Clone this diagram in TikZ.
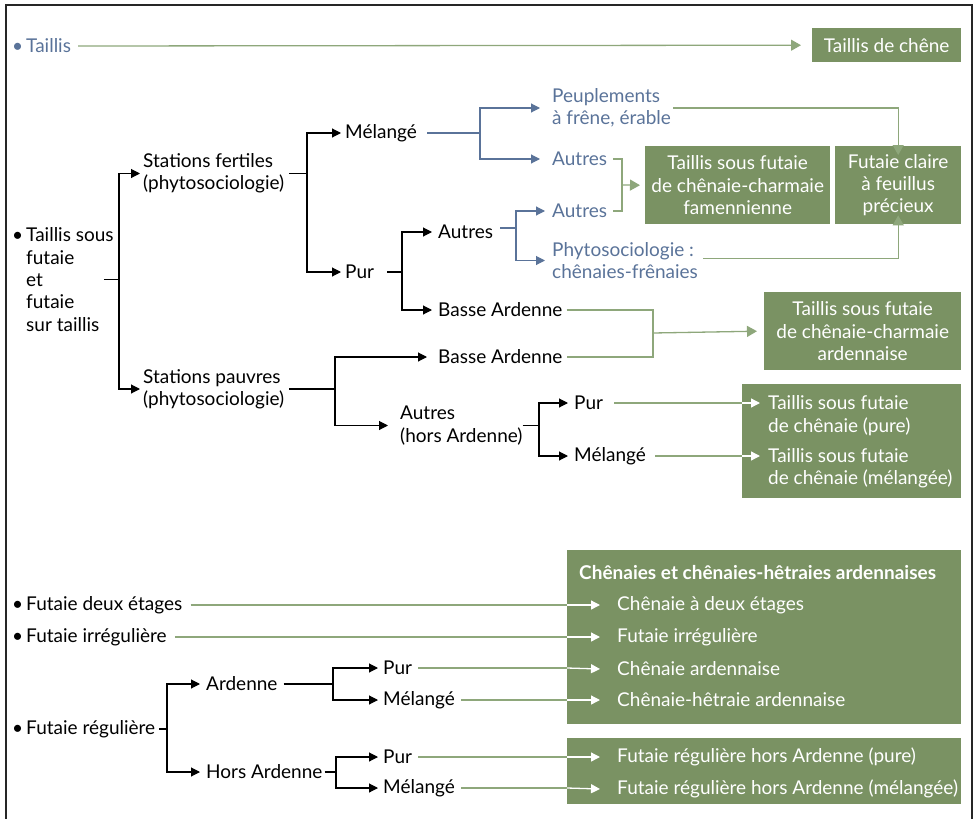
\documentclass[tikz,border=0pt]{standalone}
\usepackage{fontspec}
\setmainfont{Lato}
\usetikzlibrary{arrows.meta}
\definecolor{boxgreen}{HTML}{7A9263}
\definecolor{linegreen}{HTML}{8EA77B}
\definecolor{tblue}{HTML}{5A7399}
\newcommand{\dfont}{\fontsize{19}{22.3}\selectfont}
\newcommand{\bul}{\llap{•\,}}
\tikzset{
  txt/.style={inner sep=0pt, anchor=west, align=left, font=\dfont},
  btxt/.style={txt, text=tblue},
  wtxt/.style={txt, text=white},
  gbox/.style={fill=boxgreen, inner sep=0pt, anchor=north west, text=white, align=center, font=\dfont},
  blkl/.style={draw=black, line width=1.1pt},
  blk/.style={blkl, -{Triangle[length=9pt,width=9pt]}},
  bluel/.style={draw=tblue, line width=1.1pt},
  bluea/.style={bluel, -{Triangle[length=9pt,width=9pt]}},
  grnl/.style={draw=linegreen, line width=1.3pt},
  grna/.style={grnl, -{Triangle[length=10pt,width=11pt]}},
  whta/.style={draw=white, line width=1.3pt, -{Triangle[length=9pt,width=9pt]}},
}
\begin{document}
\begin{tikzpicture}[x=1pt,y=-1pt]
\useasboundingbox (0,0) rectangle (975,819);
\draw[line width=1.2pt, draw=black!85] (6,819) -- (6,5) -- (972,5) -- (972,819);

% ---------- boxes ----------
\node[gbox, minimum width=149, minimum height=34] (b1) at (812,28) {Taillis de chêne};
\node[gbox, minimum width=185, minimum height=78] (tsf) at (645,146) {Taillis sous futaie\\de chênaie-charmaie\\famennienne};
\node[gbox, minimum width=126, minimum height=78] (fc) at (835,146) {Futaie claire\\à feuillus\\précieux};
\node[gbox, minimum width=197, minimum height=78] (tsa) at (764,292) {Taillis sous futaie\\de chênaie-charmaie\\ardennaise};
\node[gbox, minimum width=219, minimum height=114] (tsp) at (742,384) {};
\node[gbox, minimum width=394, minimum height=174] (ch) at (567,550) {};
\node[gbox, minimum width=394, minimum height=66] (fr) at (567,738) {};

\node[wtxt] (tp1) at (768,415.5) {Taillis sous futaie\\de chênaie (pure)};
\node[wtxt] (tp2) at (768,468.5) {Taillis sous futaie\\de chênaie (mélangée)};
\node[wtxt, font=\dfont\bfseries] (cht) at (579,573) {Chênaies et chênaies-hêtraies ardennaises};
\node[wtxt] (i1) at (617,605) {Chênaie à deux étages};
\node[wtxt] (i2) at (617,637) {Futaie irrégulière};
\node[wtxt] (i3) at (617,669) {Chênaie ardennaise};
\node[wtxt] (i4) at (617,700) {Chênaie-hêtraie ardennaise};
\node[wtxt] (i5) at (617,757) {Futaie régulière hors Ardenne (pure)};
\node[wtxt] (i6) at (617,789) {Futaie régulière hors Ardenne (mélangée)};

% ---------- text nodes ----------
\node[btxt] (tail) at (26,46) {\bul Taillis};
\node[txt] (root) at (26,279.5) {\bul Taillis sous\\futaie\\et\\futaie\\sur taillis};
\node[txt] (sf) at (143,173.5) {Stations fertiles\\(phytosociologie)};
\node[txt] (sp) at (143,389) {Stations pauvres\\(phytosociologie)};
\node[txt] (mel1) at (345,133) {Mélangé};
\node[txt] (pur1) at (345,272) {Pur};
\node[btxt] (peu) at (552,108) {Peuplements\\à frêne, érable};
\node[btxt] (aut1) at (552,159) {Autres};
\node[btxt] (aut2) at (552,211) {Autres};
\node[btxt] (phy) at (552,260.5) {Phytosociologie :\\chênaies-frênaies};
\node[txt] (aut3) at (438,232) {Autres};
\node[txt] (bas1) at (438,310) {Basse Ardenne};
\node[txt] (bas2) at (438,357) {Basse Ardenne};
\node[txt] (aut4) at (400,425.5) {Autres\\(hors Ardenne)};
\node[txt] (pur2) at (574,403) {Pur};
\node[txt] (mel2) at (574,456) {Mélangé};

\node[txt] (fde) at (26,605) {\bul Futaie deux étages};
\node[txt] (fir) at (26,637) {\bul Futaie irrégulière};
\node[txt] (freg) at (26,729) {\bul Futaie régulière};
\node[txt] (ard) at (206,684) {Ardenne};
\node[txt] (hard) at (206,772) {Hors Ardenne};
\node[txt] (pur3) at (383,668) {Pur};
\node[txt] (mel3) at (383,700) {Mélangé};
\node[txt] (pur4) at (383,757) {Pur};
\node[txt] (mel4) at (383,788) {Mélangé};

% ---------- junction coordinates ----------
\coordinate (j0) at (119,0);
\coordinate (j1) at (307,0);
\coordinate (j2) at (480,0);
\coordinate (j3) at (402,0);
\coordinate (j4) at (516,0);
\coordinate (j5) at (335,0);
\coordinate (j6) at (539,0);
\coordinate (j7) at (167,0);
\coordinate (j8) at (333,0);
\coordinate (j9) at (336,0);
\coordinate (jb) at (622,185);
\coordinate (jc) at (653,333);

% ---------- connectors ----------
\draw[grna] ([xshift=7pt]tail.east) -- ([xshift=-11pt]b1.west);

\draw[blkl] ([xshift=-10pt]root.east) -- (root.east -| j0);
\draw[blk] (root.east -| j0) |- ([xshift=-3pt]sf.west);
\draw[blk] (root.east -| j0) |- ([xshift=-3pt]sp.west);

\draw[blkl] ([xshift=5pt]sf.east) -- (sf.east -| j1);
\draw[blk] (sf.east -| j1) |- ([xshift=-4pt]mel1.west);
\draw[blk] (sf.east -| j1) |- ([xshift=-4pt]pur1.west);

\draw[bluel] ([xshift=10pt]mel1.east) -- (mel1.east -| j2);
\draw[bluea] (mel1.east -| j2) |- ([xshift=-12pt]peu.west);
\draw[bluea] (mel1.east -| j2) |- ([xshift=-12pt]aut1.west);

\draw[grna] ([xshift=2pt]peu.east) -| ([yshift=-9pt]fc.north);
\draw[grnl] ([xshift=6pt]aut1.east) -| (jb) |- ([xshift=6pt]aut2.east);
\draw[grna] (jb) -- ([xshift=-5pt]tsf.west);

\draw[blkl] ([xshift=13pt]pur1.east) -- (pur1.east -| j3);
\draw[blk] (pur1.east -| j3) |- ([xshift=-6pt]aut3.west);
\draw[blk] (pur1.east -| j3) |- ([xshift=-6pt]bas1.west);

\draw[bluel] ([xshift=7pt,yshift=4pt]aut3.east) -- ([yshift=4pt]aut3.east -| j4);
\draw[bluea] ([yshift=4pt]aut3.east -| j4) |- ([xshift=-7pt]aut2.west);
\draw[bluea] ([yshift=4pt]aut3.east -| j4) |- ([xshift=-7pt]phy.west);

\draw[grna] ([xshift=5pt,yshift=2pt]phy.east) -| ([yshift=9pt]fc.south);

\draw[grnl] ([xshift=4pt]bas1.east) -| (jc) |- ([xshift=4pt]bas2.east);
\draw[grna] (jc) -- ([xshift=-7pt]tsa.west);

\draw[blkl] ([xshift=5pt]sp.east) -- (sp.east -| j5);
\draw[blk] (sp.east -| j5) |- ([xshift=-11pt]bas2.west);
\draw[blk] (sp.east -| j5) |- ([xshift=-12pt]aut4.west);

\draw[blkl] (aut4.east) -- (aut4.east -| j6);
\draw[blk] (aut4.east -| j6) |- ([xshift=-6pt]pur2.west);
\draw[blk] (aut4.east -| j6) |- ([xshift=-6pt]mel2.west);

\draw[grnl] ([xshift=11pt]pur2.east) -- (pur2.east -| tsp.west);
\draw[whta] (pur2.east -| tsp.west) -- ([xshift=-8pt]tp1.west |- pur2.east);
\draw[grnl] ([xshift=9pt]mel2.east) -- (mel2.east -| tsp.west);
\draw[whta] (mel2.east -| tsp.west) -- ([xshift=-8pt]tp2.west |- mel2.east);

\draw[grnl] ([xshift=8pt]fde.east) -- (fde.east -| ch.west);
\draw[whta] (fde.east -| ch.west) -- ([xshift=-17pt]i1.west);
\draw[grnl] ([xshift=8pt]fir.east) -- (fir.east -| ch.west);
\draw[whta] (fir.east -| ch.west) -- ([xshift=-17pt]i2.west);

\draw[blkl] ([xshift=4pt]freg.east) -- (freg.east -| j7);
\draw[blk] (freg.east -| j7) |- ([xshift=-6pt]ard.west);
\draw[blk] (freg.east -| j7) |- ([xshift=-6pt]hard.west);

\draw[blkl] ([xshift=6pt]ard.east) -- (ard.east -| j8);
\draw[blk] (ard.east -| j8) |- ([xshift=-5pt]pur3.west);
\draw[blk] (ard.east -| j8) |- ([xshift=-5pt]mel3.west);

\draw[blkl] ([xshift=2pt]hard.east) -- (hard.east -| j9);
\draw[blk] (hard.east -| j9) |- ([xshift=-5pt]pur4.west);
\draw[blk] (hard.east -| j9) |- ([xshift=-5pt]mel4.west);

\draw[grnl] ([xshift=6pt]pur3.east) -- (pur3.east -| ch.west);
\draw[whta] (pur3.east -| ch.west) -- ([xshift=-17pt]i3.west);
\draw[grnl] ([xshift=6pt]mel3.east) -- (mel3.east -| ch.west);
\draw[whta] (mel3.east -| ch.west) -- ([xshift=-17pt]i4.west);
\draw[grnl] ([xshift=6pt]pur4.east) -- (pur4.east -| fr.west);
\draw[whta] (pur4.east -| fr.west) -- ([xshift=-17pt]i5.west);
\draw[grnl] ([xshift=6pt]mel4.east) -- (mel4.east -| fr.west);
\draw[whta] (mel4.east -| fr.west) -- ([xshift=-17pt]i6.west);
\end{tikzpicture}
\end{document}
